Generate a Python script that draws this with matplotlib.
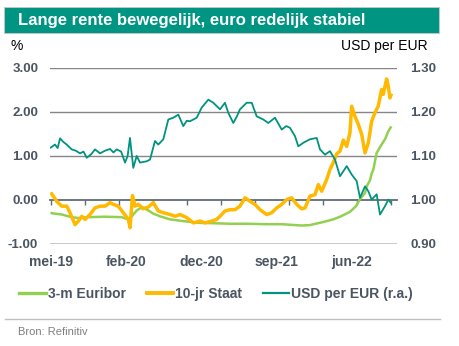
import matplotlib
matplotlib.use('Agg')
import matplotlib.pyplot as plt
from matplotlib.patches import Rectangle
from matplotlib.lines import Line2D

plt.rcParams['font.family'] = ['Liberation Sans', 'DejaVu Sans']

# x = maanden sinds begin mei 2019
euribor_x = [0.12, 1.36, 2.59, 3.41, 4.64, 6.71, 8.77, 9.39, 9.80, 10.20, 10.62, 11.03,
             11.44, 12.06, 12.67, 13.50, 14.74, 16.38, 18.44, 20.51, 22.15, 24.41,
             26.47, 28.54, 31.01, 32.03, 33.68, 34.91, 35.74, 36.97, 37.71, 38.21,
             38.83, 39.04, 39.45, 39.65, 39.86, 40.27, 40.88, 41.30, 41.71, 42.0]
euribor = [-0.30, -0.33, -0.39, -0.41, -0.39, -0.38, -0.39, -0.43, -0.42, -0.33, -0.24, -0.19,
           -0.17, -0.24, -0.31, -0.37, -0.44, -0.48, -0.52, -0.53, -0.54, -0.54,
           -0.55, -0.55, -0.58, -0.57, -0.50, -0.44, -0.38, -0.27, -0.14, 0.02,
           0.16, 0.31, 0.45, 0.60, 0.69, 1.07, 1.26, 1.38, 1.56, 1.65]

staat_x = [0.12, 0.74, 1.36, 1.98, 2.38, 3.00, 3.41, 3.83, 4.24, 4.85, 5.47, 6.09, 6.71,
           7.33, 7.73, 8.35, 8.97, 9.59, 9.80, 10.10, 10.41, 10.82, 11.44, 12.06, 12.67,
           13.29, 13.91, 14.74, 15.36, 15.97, 16.80, 17.62, 18.44, 19.06, 19.89, 20.51,
           20.91, 21.53, 22.15, 22.77, 23.38, 24.00, 24.62, 25.24, 25.86, 26.68, 27.30,
           27.92, 28.54, 29.15, 29.77, 30.39, 31.01, 31.42, 32.03, 32.65, 33.06, 33.48,
           34.10, 34.50, 34.91, 35.33, 35.74, 36.15, 36.57, 36.97, 37.18, 37.59, 38.00,
           38.41, 38.83, 39.24, 39.65, 40.05, 40.46, 40.88, 41.08, 41.50, 41.70, 41.91, 42.03]
staat = [0.14, -0.03, -0.14, -0.14, -0.29, -0.56, -0.48, -0.37, -0.44, -0.33, -0.18, -0.14, -0.14,
         -0.06, -0.10, -0.14, -0.29, -0.44, -0.63, 0.10, -0.14, -0.10, -0.20, -0.16, -0.06,
         -0.25, -0.29, -0.33, -0.37, -0.33, -0.40, -0.52, -0.48, -0.52, -0.48, -0.44,
         -0.37, -0.25, -0.22, -0.22, -0.14, 0.05, -0.03, -0.10, -0.22, -0.33, -0.29,
         -0.18, -0.10, 0.01, 0.05, -0.10, -0.20, -0.18, 0.09, 0.12, 0.35, 0.20,
         0.47, 0.69, 0.85, 1.05, 1.11, 1.36, 1.22, 1.53, 2.13, 1.90, 1.72,
         1.50, 1.07, 1.30, 1.79, 1.98, 2.13, 2.51, 2.40, 2.75, 2.59, 2.32, 2.38]

usd_x = [0.0, 0.53, 0.85, 1.15, 1.55, 1.98, 2.59, 3.10, 3.62, 4.05, 4.45, 5.00, 5.47, 6.09,
         6.70, 7.33, 7.75, 8.15, 8.70, 9.18, 9.50, 9.79, 10.20, 10.62, 11.03, 11.86, 12.27,
         12.88, 13.29, 13.91, 14.53, 15.15, 15.76, 16.38, 16.80, 17.21, 18.04, 18.65,
         19.47, 20.09, 20.91, 21.53, 21.94, 22.56, 23.00, 23.38, 24.21, 24.83, 25.45,
         26.26, 26.88, 27.71, 28.54, 29.10, 29.56, 30.18, 30.59, 31.20, 32.03, 32.86,
         33.27, 33.89, 34.50, 35.12, 35.74, 36.57, 37.18, 37.80, 38.21, 38.83, 39.24,
         39.65, 40.27, 40.68, 41.30, 41.71, 42.0]
usd = [1.119, 1.126, 1.118, 1.140, 1.132, 1.126, 1.115, 1.112, 1.106, 1.110, 1.096, 1.104,
       1.115, 1.106, 1.112, 1.116, 1.108, 1.115, 1.110, 1.085, 1.100, 1.141, 1.073, 1.100,
       1.085, 1.088, 1.092, 1.134, 1.126, 1.138, 1.183, 1.187, 1.194, 1.168, 1.180,
       1.179, 1.187, 1.210, 1.228, 1.221, 1.206, 1.221, 1.198, 1.175, 1.190, 1.206,
       1.221, 1.221, 1.190, 1.183, 1.175, 1.187, 1.160, 1.168, 1.164, 1.145, 1.122,
       1.130, 1.138, 1.141, 1.115, 1.103, 1.111, 1.092, 1.054, 1.077, 1.058, 1.043,
       1.005, 1.031, 1.020, 1.001, 1.013, 0.967, 0.986, 1.001, 0.994]

tick_pos = [4.2 * i for i in range(11)]
label_pos = [0, 9.3, 18.6, 27.9, 37.2]
labels = ['mei-19', 'feb-20', 'dec-20', 'sep-21', 'jun-22']

teal = '#00937f'
gold = '#ffb900'
lime = '#92d050'
txt = '#4a5561'

fig = plt.figure(figsize=(4.6, 3.46), dpi=100)

# titelbalk
fig.patches.append(Rectangle((0.0087, 0.9046), 0.9457, 0.0751, transform=fig.transFigure,
                             facecolor='#009482', edgecolor='#c8c8c8', lw=0.6))
fig.text(0.039, 0.942, 'Lange rente bewegelijk, euro redelijk stabiel', color='white',
         fontsize=12, fontweight='bold', va='center', ha='left')
fig.text(0.022, 0.867, '%', fontsize=10, color='black', va='center', ha='left')
fig.text(0.930, 0.867, 'USD per EUR', fontsize=10, color='black', va='center', ha='right')

ax = fig.add_axes([0.1087, 0.2948, 0.7543, 0.5087])
ax.set_xlim(-0.09, 42.78)
ax.set_ylim(-1, 3)
ax.set_yticks([-1, 0, 1, 2, 3])
ax.set_yticklabels(['-1.00', '0.00', '1.00', '2.00', '3.00'])
for s in ax.spines.values():
    s.set_visible(False)
ax.tick_params(axis='y', length=0, pad=8.5, labelsize=9.5, labelcolor=txt)
for t in ax.get_yticklabels():
    t.set_fontweight('bold')
ax.set_xticks(label_pos)
ax.set_xticklabels(labels, fontweight='bold', color=txt, fontsize=10)
ax.tick_params(axis='x', length=0, pad=8)

ax.grid(axis='y', color='#868686', lw=1.0)
gl = ax.get_ygridlines()
gl[0].set_color('#c4c4c4')
gl[0].set_linewidth(2.0)
gl[1].set_visible(False)

# nullijn met maatstreepjes
sec = ax.secondary_xaxis(0.25)
sec.set_xticks(tick_pos)
sec.set_xticklabels([])
sec.tick_params(axis='x', direction='out', length=3.5, width=1.0, color='#5f6b73')
sec.spines['bottom'].set_color('#5f6b73')
sec.spines['bottom'].set_linewidth(1.3)

ax.plot(euribor_x, euribor, color=lime, lw=1.8, zorder=3)
ax.plot(staat_x, staat, color=gold, lw=2.5, zorder=3)

ax2 = ax.twinx()
ax2.set_ylim(0.9, 1.3)
ax2.set_yticks([0.9, 1.0, 1.1, 1.2, 1.3])
ax2.set_yticklabels(['0.90', '1.00', '1.10', '1.20', '1.30'])
for s in ax2.spines.values():
    s.set_visible(False)
ax2.tick_params(axis='y', length=0, pad=9.5, labelsize=9.5, labelcolor=txt)
for t in ax2.get_yticklabels():
    t.set_fontweight('bold')
ax2.plot(usd_x, usd, color=teal, lw=1.3)

handles = [Line2D([], [], color=lime, lw=2.4),
           Line2D([], [], color=gold, lw=2.8),
           Line2D([], [], color=teal, lw=1.6)]
leg = fig.legend(handles, ['3-m Euribor', '10-jr Staat', 'USD per EUR (r.a.)'],
                 loc='center', bbox_to_anchor=(0.47, 0.150), ncol=3, frameon=False,
                 handlelength=1.9, handletextpad=0.15, columnspacing=1.5,
                 prop={'weight': 'bold', 'size': 10})
for t in leg.get_texts():
    t.set_color(txt)

fig.add_artist(Line2D([0.011, 0.957], [0.078, 0.078], transform=fig.transFigure,
                      color='#c0c0c0', lw=1.0))
fig.text(0.039, 0.040, 'Bron: Refinitiv', fontsize=8, color='#7f7f7f', va='center', ha='left')

fig.savefig('out.png', dpi=100, facecolor='white')
